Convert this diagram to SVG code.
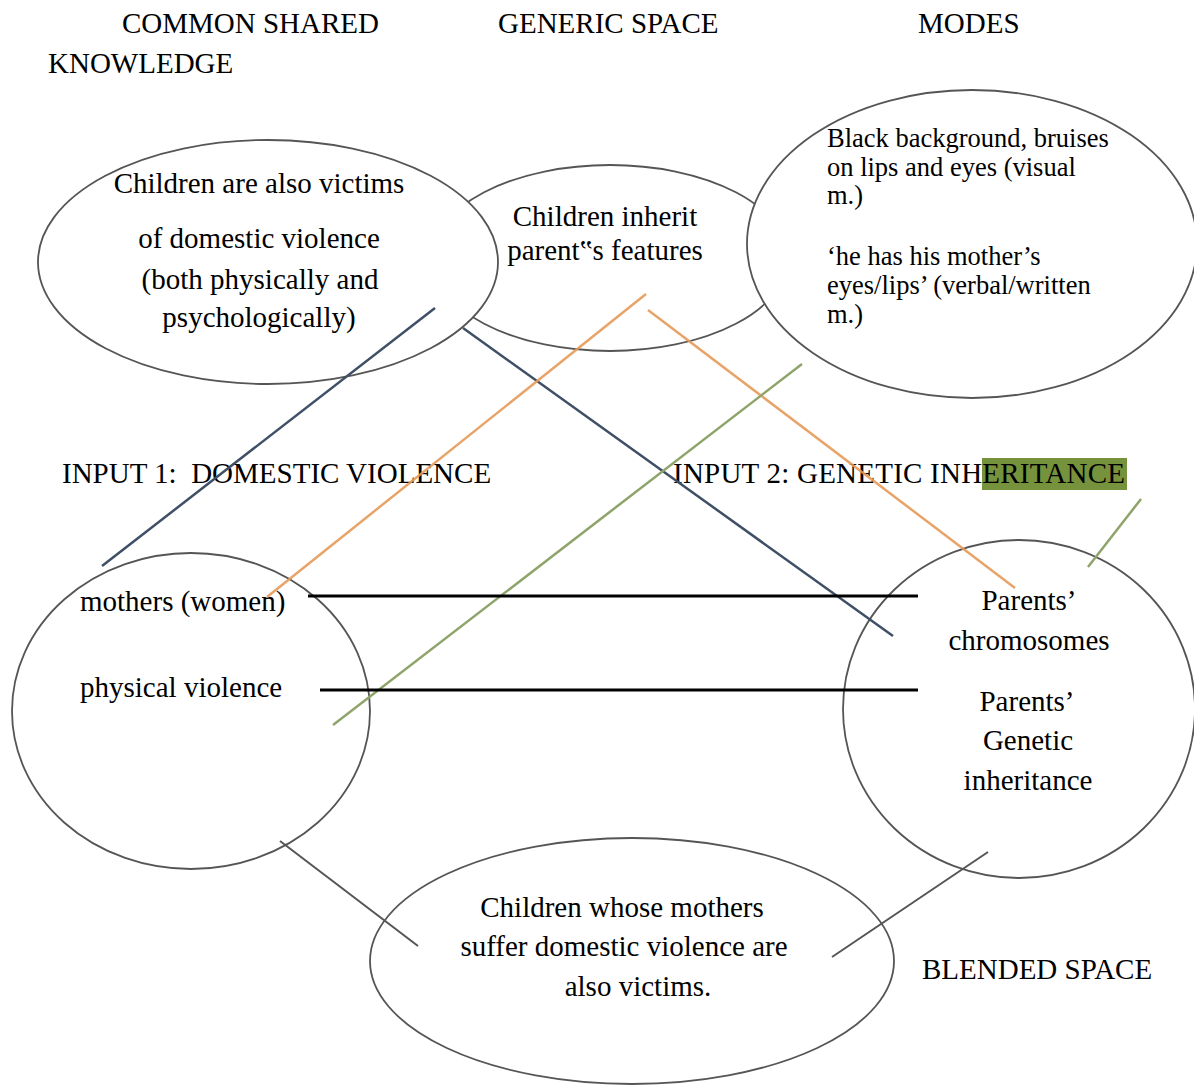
<svg xmlns="http://www.w3.org/2000/svg" width="1194" height="1085" viewBox="0 0 1194 1085">
<style>
text{font-family:"Liberation Serif","Times New Roman",serif;font-size:29px;fill:#000}
.m{font-size:26.5px}
.c{text-anchor:middle}
.ell{fill:#fff;stroke:#555;stroke-width:1.8}
.blue{stroke:#3f4f66;stroke-width:2.5;fill:none}
.orange{stroke:#e69a58;stroke-width:2.5;fill:none;stroke-opacity:.9}
.green{stroke:#8fa46a;stroke-width:2.5;fill:none}
.gray{stroke:#555;stroke-width:2;fill:none}
.black{stroke:#000;stroke-width:3;fill:none}
</style>
<rect width="1194" height="1085" fill="#fff"/>
<g id="titles">
<text x="122" y="33">COMMON SHARED</text>
<text x="48" y="73">KNOWLEDGE</text>
<text x="498" y="33">GENERIC SPACE</text>
<text x="918" y="33">MODES</text>
</g>
<g id="generic-space">
<ellipse class="ell" cx="610" cy="258" rx="178" ry="93"/>
<text class="c" x="605" y="226">Children inherit</text>
<text class="c" x="605" y="260">parent‟s features</text>
</g>
<g id="common-knowledge">
<ellipse class="ell" cx="268" cy="262" rx="230" ry="122"/>
<text class="c" x="259" y="193">Children are also victims</text>
<text class="c" x="259" y="248">of domestic violence</text>
<text class="c" x="260" y="289">(both physically and</text>
<text class="c" x="259" y="327">psychologically)</text>
</g>
<g id="modes">
<ellipse class="ell" cx="972" cy="244" rx="225" ry="154"/>
<text class="m" x="827" y="147">Black background, bruises</text>
<text class="m" x="827" y="176">on lips and eyes (visual</text>
<text class="m" x="827" y="204">m.)</text>
<text class="m" x="827" y="265">‘he has his mother’s</text>
<text class="m" x="827" y="294">eyes/lips’ (verbal/written</text>
<text class="m" x="827" y="323">m.)</text>
</g>
<g id="input1">
<text x="62" y="483" xml:space="preserve">INPUT 1:  DOMESTIC VIOLENCE</text>
<ellipse class="ell" cx="191" cy="711" rx="179" ry="158"/>
<text x="80" y="611">mothers (women)</text>
<text x="80" y="697">physical violence</text>
</g>
<g id="input2">
<rect x="982" y="458" width="145" height="32" fill="#76923c"/>
<text x="673" y="483" textLength="452" lengthAdjust="spacing">INPUT 2: GENETIC INHERITANCE</text>
<ellipse class="ell" cx="1019" cy="709" rx="176" ry="169"/>
<text class="c" x="1029" y="610">Parents’</text>
<text class="c" x="1029" y="650">chromosomes</text>
<text class="c" x="1027" y="711">Parents’</text>
<text class="c" x="1028" y="750">Genetic</text>
<text class="c" x="1028" y="790">inheritance</text>
</g>
<g id="blended-space">
<ellipse class="ell" cx="632" cy="961" rx="262" ry="123"/>
<text class="c" x="622" y="917">Children whose mothers</text>
<text class="c" x="624" y="956">suffer domestic violence are</text>
<text class="c" x="638" y="996">also victims.</text>
<text x="922" y="979">BLENDED SPACE</text>
</g>
<g id="connectors">
<line class="blue" x1="435" y1="308" x2="102" y2="566"/>
<line class="blue" x1="463" y1="328" x2="893" y2="636"/>
<line class="orange" x1="646" y1="294" x2="267" y2="597"/>
<line class="orange" x1="648" y1="310" x2="1015" y2="588"/>
<line class="green" x1="802" y1="364" x2="333" y2="725"/>
<line class="green" x1="1141" y1="499" x2="1088" y2="567"/>
<line class="black" x1="308" y1="596" x2="918" y2="596"/>
<line class="black" x1="320" y1="690" x2="918" y2="690"/>
<line class="gray" x1="280" y1="841" x2="418" y2="946"/>
<line class="gray" x1="988" y1="852" x2="832" y2="957"/>
</g>
</svg>
